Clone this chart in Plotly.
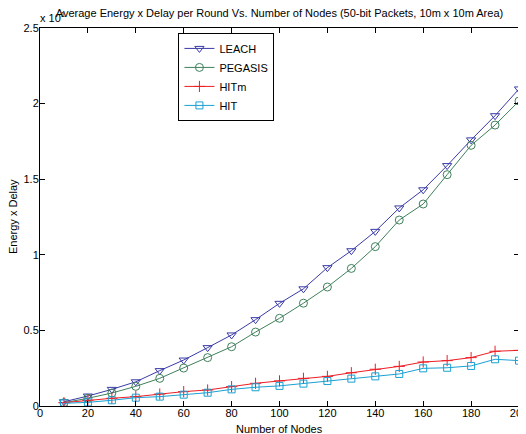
import plotly.graph_objects as go

nodes = [10, 20, 30, 40, 50, 60, 70, 80, 90, 100, 110, 120, 130, 140, 150, 160, 170, 180, 190, 200]
leach = [0.028, 0.066, 0.11, 0.16, 0.234, 0.304, 0.386, 0.47, 0.571, 0.679, 0.775, 0.915, 1.027, 1.155, 1.31, 1.43, 1.59, 1.76, 1.92, 2.097]
pegasis = [0.022, 0.051, 0.086, 0.13, 0.183, 0.251, 0.32, 0.392, 0.489, 0.58, 0.68, 0.787, 0.91, 1.054, 1.23, 1.336, 1.53, 1.724, 1.858, 2.017]
hitm = [0.022, 0.038, 0.051, 0.062, 0.079, 0.095, 0.106, 0.128, 0.15, 0.166, 0.183, 0.196, 0.22, 0.243, 0.262, 0.291, 0.30, 0.32, 0.362, 0.368]
hit = [0.018, 0.024, 0.038, 0.055, 0.062, 0.075, 0.088, 0.11, 0.124, 0.133, 0.148, 0.165, 0.181, 0.196, 0.212, 0.249, 0.253, 0.265, 0.309, 0.30]

x_ticks = [0, 20, 40, 60, 80, 100, 120, 140, 160, 180, 200]
y_ticks = [0, 0.5, 1, 1.5, 2, 2.5]
y_tick_labels = ["0", "0.5", "1", "1.5", "2", "2.5"]

FONT = "Liberation Sans, Arial, Helvetica, sans-serif"

series = [
    ("LEACH", leach, "#3a3aa8", "triangle-down-open", 8),
    ("PEGASIS", pegasis, "#3f805c", "circle-open", 8),
    ("HITm", hitm, "#ee1d25", "cross-thin-open", 8),
    ("HIT", hit, "#1ba0d2", "square-open", 7),
]

fig = go.Figure()
for name, vals, color, sym, size in series:
    fig.add_trace(go.Scatter(
        x=nodes, y=vals, name=name, mode="lines+markers",
        line=dict(color=color, width=1),
        marker=dict(symbol=sym, size=size, color=color, line=dict(color=color, width=1)),
    ))

axis_common = dict(
    showline=True, linecolor="black", linewidth=1, mirror="ticks",
    ticks="inside", ticklen=5, tickcolor="black", showgrid=False, zeroline=False,
    tickfont=dict(family=FONT, size=11, color="black"),
    automargin=False, ticklabeloverflow="allow",
)

# page body has an 8px margin, so the figure is drawn 8px smaller
fig.update_layout(
    width=518, height=426,
    margin=dict(l=32, r=7, t=20, b=28),
    paper_bgcolor="white", plot_bgcolor="white",
    font=dict(family=FONT, size=11, color="black"),
    title=dict(
        text="Average Energy x Delay per Round Vs. Number of Nodes (50-bit Packets, 10m x 10m Area)",
        x=0.5, xref="paper", xanchor="center", y=1, yref="container", yanchor="top",
        pad=dict(t=1), font=dict(family=FONT, size=11, color="black"),
    ),
    xaxis=dict(range=[0, 200], tickvals=x_ticks, ticktext=[str(t) for t in x_ticks],
               ticklabelstandoff=-3, **axis_common),
    yaxis=dict(range=[0, 2.5], tickvals=y_ticks, ticktext=y_tick_labels,
               ticklabelstandoff=-2, **axis_common),
    legend=dict(
        x=0.289, y=0.987, xanchor="left", yanchor="top",
        bordercolor="black", borderwidth=1, bgcolor="white",
        font=dict(family=FONT, size=11, color="black"),
        itemwidth=30, tracegroupgap=0,
    ),
    showlegend=True,
)

fig.add_annotation(
    text="Number of Nodes", xref="paper", yref="paper", x=0.5, y=0,
    xanchor="center", yanchor="middle", yshift=-23, showarrow=False,
    font=dict(family=FONT, size=11, color="black"),
)
fig.add_annotation(
    text="Energy x Delay", xref="paper", yref="paper", x=0, y=0.5,
    xanchor="center", yanchor="middle", xshift=-27, textangle=-90, showarrow=False,
    font=dict(family=FONT, size=11, color="black"),
)
fig.add_annotation(
    text="x 10<sup>1</sup>", xref="paper", yref="paper", x=0.0, y=1.0,
    xanchor="left", yanchor="bottom", showarrow=False,
    font=dict(family=FONT, size=11, color="black"), yshift=2, xshift=-2,
)

fig.write_html("out.html")
